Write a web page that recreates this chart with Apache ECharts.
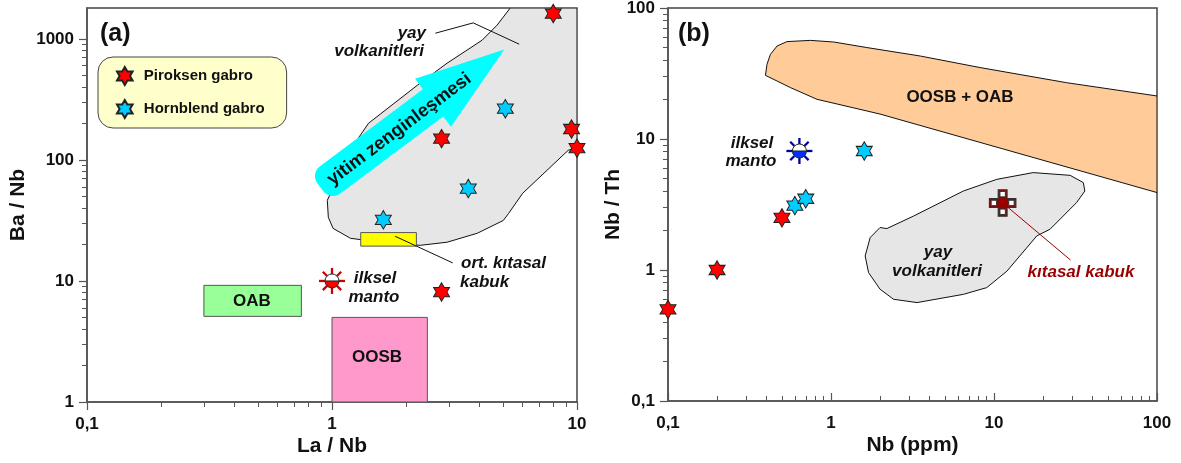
<!DOCTYPE html>
<html>
<head>
<meta charset="utf-8">
<script src="https://cdn.jsdelivr.net/npm/echarts@6/dist/echarts.min.js"></script>
<style>
html,body{margin:0;padding:0;background:#fff;}
#chart{width:1181px;height:463px;}
</style>
</head>
<body>
<div id="chart"></div>
<script>
// ---------------- DATA ----------------
// Panel (a): La/Nb vs Ba/Nb
const piroksenA = [[8.0, 1620], [9.5, 180], [10, 125], [2.8, 150], [2.8, 8.1]];
const hornblendA = [[5.1, 265], [3.6, 58], [1.62, 32]];
const primitiveMantleA = [[1.0, 10]];
const arcVolcanicsA = [[5.34, 1800], [10, 1800], [10, 127], [9.2, 120], [6.0, 53], [5.25, 36], [5.0, 31.6],
  [3.92, 24.8], [2.95, 20.9], [2.29, 19.7], [1.73, 20.5], [1.19, 22.5], [1.01, 27.2], [0.966, 33.6],
  [0.957, 46.4], [1.21, 128], [1.41, 201], [2.23, 414], [2.95, 630], [4.1, 976], [4.72, 1300]];
const oabBox = [[0.3, 5.1], [0.75, 5.1], [0.75, 9.2], [0.3, 9.2]];
const oosbBox = [[1.0, 1], [2.45, 1], [2.45, 5.0], [1.0, 5.0]];
const crustBoxA = [[1.31, 19.4], [2.21, 19.4], [2.21, 25.1], [1.31, 25.1]];
const arrowTail = [0.896, 59.5];
const arrowTip = [5.05, 817];
const arcLeaderA = [[2.64, 1114], [3.77, 1356], [5.81, 904]];
const crustLeaderA = [[1.81, 23.4], [3.11, 14.1]];

// Panel (b): Nb vs Nb/Th
const piroksenB = [[0.1, 0.5], [0.2, 1.0], [0.5, 2.5]];
const hornblendB = [[0.6, 3.1], [0.7, 3.5], [1.6, 8.1]];
const primitiveMantleB = [[0.64, 8.1]];
const continentalCrustB = [[11.3, 3.25]];
const oceanicField = [[0.396, 30.6], [0.405, 37.2], [0.425, 44.3], [0.467, 51.3], [0.537, 55.4], [0.747, 56.6],
  [1.04, 55], [1.66, 49.9], [3.53, 43.0], [8.22, 35.1], [27.9, 26.9], [100, 21.3], [100, 3.9],
  [2.0, 15.5], [0.82, 20.1], [0.563, 24.7], [0.467, 27.7]];
const arcVolcanicsB = [[2.2, 2.07], [3.21, 2.58], [6.49, 4.01], [10.4, 4.92], [17.4, 5.54], [29.3, 5.28],
  [35.3, 4.65], [36.1, 4.01], [32.1, 3.27], [22.1, 2.05], [18.3, 1.82], [12.0, 0.98], [9.03, 0.734],
  [6.49, 0.652], [3.37, 0.564], [2.42, 0.598], [2.0, 0.713], [1.7, 0.955], [1.62, 1.28], [1.74, 1.77], [2.0, 2.11]];
const crustLeaderB = [[11.3, 3.25], [29.5, 1.19]];

const ticksA_x = [0.1, 1, 10];
const ticksA_y = [1, 10, 100, 1000];
const ticksB_x = [0.1, 1, 10, 100];
const ticksB_y = [0.1, 1, 10, 100];

// ---------------- STYLE ----------------
const FONT = '"Liberation Sans", Arial, sans-serif';
const starPath = 'path://M100,0L128.87,50L186.6,50L157.7,100L186.6,150L128.87,150L100,200L71.13,150L13.4,150L42.3,100L13.4,50L71.13,50Z';
const AX = '#555';
const fmt = v => String(Number(Number(v).toPrecision(6))).replace('.', ',');

function logAxis(gi, min, max, ticks, name, nameGap, inside, isY) {
  return {
    type: 'log', logBase: 10, gridIndex: gi, min: min, max: max,
    name: name, nameLocation: 'middle', nameGap: nameGap, nameMoveOverlap: false,
    nameTextStyle: { fontFamily: FONT, fontSize: 21, fontWeight: 'bold', color: '#111' },
    axisLine: { show: true, onZero: false, lineStyle: { color: AX, width: 1.5 } },
    axisTick: { show: true, inside: inside, length: 8, customValues: ticks, lineStyle: { color: AX, width: 1.2 } },
    minorTick: { show: true, splitNumber: 9, length: 5, lineStyle: { color: AX, width: 1 } },
    splitLine: { show: false }, minorSplitLine: { show: false },
    axisLabel: { customValues: ticks, formatter: fmt, fontFamily: FONT, fontSize: 17, fontWeight: 'bold',
      color: '#111', margin: isY ? 13 : 14, showMinLabel: true, showMaxLabel: true, hideOverlap: false }
  };
}

function polygonSeries(pts, gi, style, z) {
  return {
    type: 'custom', xAxisIndex: gi, yAxisIndex: gi, data: pts, clip: true, silent: true, z: z,
    renderItem: function (params, api) {
      if (params.dataIndex !== 0) return null;
      return { type: 'polygon', shape: { points: pts.map(p => api.coord(p)) }, style: style };
    }
  };
}

function lineSeries(pts, gi, color, z) {
  return {
    type: 'line', xAxisIndex: gi, yAxisIndex: gi, data: pts, symbol: 'none', silent: true, z: z,
    lineStyle: { color: color, width: 1 }, animation: false
  };
}

function mantoSeries(pts, gi, lowerColor, rayColor) {
  return {
    type: 'custom', xAxisIndex: gi, yAxisIndex: gi, data: pts, clip: false, silent: true, z: 12,
    renderItem: function (params, api) {
      const c = api.coord(pts[params.dataIndex]);
      const R = 7;
      const ch = [];
      for (let k = 0; k < 8; k++) {
        const a = k * Math.PI / 4;
        ch.push({ type: 'line', shape: { x1: c[0] + 7 * Math.cos(a), y1: c[1] + 7 * Math.sin(a),
          x2: c[0] + 13 * Math.cos(a), y2: c[1] + 13 * Math.sin(a) }, style: { stroke: rayColor, lineWidth: 2.3 } });
      }
      ch.push({ type: 'circle', shape: { cx: c[0], cy: c[1], r: R }, style: { fill: '#fff', stroke: null } });
      ch.push({ type: 'sector', shape: { cx: c[0], cy: c[1], r: R, r0: 0, startAngle: 0, endAngle: Math.PI, clockwise: true },
        style: { fill: lowerColor, stroke: null } });
      ch.push({ type: 'line', shape: { x1: c[0] - R, y1: c[1], x2: c[0] + R, y2: c[1] }, style: { stroke: '#222', lineWidth: 1 } });
      ch.push({ type: 'circle', shape: { cx: c[0], cy: c[1], r: R }, style: { fill: null, stroke: '#222', lineWidth: 1 } });
      return { type: 'group', children: ch };
    }
  };
}

function crossSeries(pts, gi) {
  return {
    type: 'custom', xAxisIndex: gi, yAxisIndex: gi, data: pts, clip: false, silent: true, z: 12,
    renderItem: function (params, api) {
      const c = api.coord(pts[params.dataIndex]);
      const s = 8.8, h = s / 2, H = 1.5 * s;
      const shape = [[-h, -H], [h, -H], [h, -h], [H, -h], [H, h], [h, h], [h, H], [-h, H], [-h, h], [-H, h], [-H, -h], [-h, -h]]
        .map(p => [c[0] + p[0], c[1] + p[1]]);
      const ch = [{ type: 'polygon', shape: { points: shape }, style: { fill: '#990000', stroke: '#333', lineWidth: 1.2 } }];
      [[0, -s], [-s, 0], [s, 0], [0, s]].forEach(o => {
        ch.push({ type: 'rect', shape: { x: c[0] + o[0] - 2.7, y: c[1] + o[1] - 2.7, width: 5.4, height: 5.4 },
          style: { fill: '#fff', stroke: '#333', lineWidth: 1 } });
      });
      return { type: 'group', children: ch };
    }
  };
}

function arrowSeries(gi) {
  return {
    type: 'custom', xAxisIndex: gi, yAxisIndex: gi, data: [arrowTail], clip: false, silent: true, z: 8,
    renderItem: function (params, api) {
      const a = api.coord(arrowTail), b = api.coord(arrowTip);
      const dx = b[0] - a[0], dy = b[1] - a[1];
      const L = Math.hypot(dx, dy);
      const rot = Math.atan2(-dy, dx);
      const hl = 89, hs = 17, hw = 30, r = 12;
      const pts = [[L, 0], [L - hl, hw], [L - hl, hs]];
      for (let i = 0; i <= 8; i++) {
        const t = Math.PI / 2 + i * Math.PI / 16;
        pts.push([r + r * Math.cos(t), hs - r + r * Math.sin(t)]);
      }
      for (let i = 0; i <= 8; i++) {
        const t = Math.PI + i * Math.PI / 16;
        pts.push([r + r * Math.cos(t), -(hs - r) + r * Math.sin(t)]);
      }
      pts.push([L - hl, -hs], [L - hl, -hw]);
      return {
        type: 'group', x: a[0], y: a[1], rotation: rot,
        children: [
          { type: 'polygon', shape: { points: pts }, style: { fill: '#00FFFF', stroke: null } },
          { type: 'text', x: 98, y: 1, style: { text: 'yitim zenginleşmesi', font: 'bold 18.5px ' + FONT, fill: '#111',
            align: 'center', verticalAlign: 'middle', textAlign: 'center', textVerticalAlign: 'middle' } }
        ]
      };
    }
  };
}

function txt(x, y, text, opts) {
  opts = opts || {};
  const align = opts.align || 'center';
  return {
    type: 'text', x: x, y: y, z: 100, silent: true,
    style: { text: text, font: (opts.italic ? 'italic ' : '') + 'bold ' + (opts.size || 17) + 'px ' + FONT,
      fill: opts.color || '#111', align: align, textAlign: align, verticalAlign: 'middle', textVerticalAlign: 'middle' }
  };
}

const chart = echarts.init(document.getElementById('chart'), null, { renderer: 'canvas' });
const option = {
  animation: false,
  backgroundColor: '#fff',
  grid: [
    { left: 87, top: 8, width: 490, height: 394, show: true, borderColor: '#444', borderWidth: 1.5, backgroundColor: 'transparent', containLabel: false, outerBoundsMode: 'none' },
    { left: 668, top: 8, width: 489, height: 393, show: true, borderColor: '#444', borderWidth: 1.5, backgroundColor: 'transparent', containLabel: false, outerBoundsMode: 'none' }
  ],
  xAxis: [
    logAxis(0, 0.1, 10, ticksA_x, 'La / Nb', 34, false, false),
    logAxis(1, 0.1, 100, ticksB_x, 'Nb (ppm)', 34, true, false)
  ],
  yAxis: [
    logAxis(0, 1, 1800, ticksA_y, 'Ba / Nb', 58, false, true),
    logAxis(1, 0.1, 100, ticksB_y, 'Nb / Th', 44, false, true)
  ],
  legend: {
    data: ['Piroksen gabro', 'Hornblend gabro'],
    orient: 'vertical', left: 98, top: 57,
    itemWidth: 28, itemHeight: 18, itemGap: 13,
    padding: [9, 22, 9, 18],
    backgroundColor: '#FFFFCC', borderColor: '#444', borderWidth: 1, borderRadius: 15,
    selectedMode: false,
    textStyle: { fontFamily: FONT, fontSize: 15, fontWeight: 'bold', color: '#111' }
  },
  graphic: [
    txt(100, 34, '(a)', { size: 25, align: 'left' }),
    txt(678, 34, '(b)', { size: 25, align: 'left' }),
    txt(426, 33, 'yay', { italic: true, align: 'right' }),
    txt(424, 51, 'volkanitleri', { italic: true, align: 'right' }),
    txt(461, 263, 'ort. kıtasal', { italic: true, align: 'left' }),
    txt(460, 282, 'kabuk', { italic: true, align: 'left' }),
    txt(375, 278, 'ilksel', { italic: true }),
    txt(374, 297, 'manto', { italic: true }),
    txt(252, 301, 'OAB'),
    txt(377, 357, 'OOSB'),
    txt(752, 143, 'ilksel', { italic: true }),
    txt(751, 161, 'manto', { italic: true }),
    txt(960, 97, 'OOSB + OAB'),
    txt(938, 252, 'yay', { italic: true }),
    txt(937, 271, 'volkanitleri', { italic: true }),
    txt(1081, 272, 'kıtasal kabuk', { italic: true, color: '#990000' })
  ],
  series: [
    polygonSeries(arcVolcanicsA, 0, { fill: '#E6E6E6', stroke: '#111', lineWidth: 1 }, 1),
    polygonSeries(oabBox, 0, { fill: '#99FF99', stroke: '#555', lineWidth: 1 }, 2),
    polygonSeries(oosbBox, 0, { fill: '#FF99CC', stroke: '#555', lineWidth: 1 }, 2),
    polygonSeries(crustBoxA, 0, { fill: '#FFFF00', stroke: '#555', lineWidth: 1 }, 3),
    lineSeries(arcLeaderA, 0, '#111', 4),
    lineSeries(crustLeaderA, 0, '#111', 4),
    arrowSeries(0),
    mantoSeries(primitiveMantleA, 0, '#FF0000', '#CC0000'),
    { name: 'Piroksen gabro', type: 'scatter', xAxisIndex: 0, yAxisIndex: 0, data: piroksenA, symbol: starPath,
      symbolSize: [16, 18.5], clip: false, z: 10, itemStyle: { color: '#FF0000', borderColor: '#222', borderWidth: 1, opacity: 1 } },
    { name: 'Hornblend gabro', type: 'scatter', xAxisIndex: 0, yAxisIndex: 0, data: hornblendA, symbol: starPath,
      symbolSize: [16, 18.5], clip: false, z: 10, itemStyle: { color: '#00CCFF', borderColor: '#222', borderWidth: 1, opacity: 1 } },

    polygonSeries(oceanicField, 1, { fill: '#FFCC99', stroke: '#111', lineWidth: 1 }, 1),
    polygonSeries(arcVolcanicsB, 1, { fill: '#E6E6E6', stroke: '#111', lineWidth: 1 }, 1),
    lineSeries(crustLeaderB, 1, '#990000', 4),
    crossSeries(continentalCrustB, 1),
    mantoSeries(primitiveMantleB, 1, '#0033FF', '#000099'),
    { name: 'Piroksen gabro', type: 'scatter', xAxisIndex: 1, yAxisIndex: 1, data: piroksenB, symbol: starPath,
      symbolSize: [16, 18.5], clip: false, z: 10, itemStyle: { color: '#FF0000', borderColor: '#222', borderWidth: 1, opacity: 1 } },
    { name: 'Hornblend gabro', type: 'scatter', xAxisIndex: 1, yAxisIndex: 1, data: hornblendB, symbol: starPath,
      symbolSize: [16, 18.5], clip: false, z: 10, itemStyle: { color: '#00CCFF', borderColor: '#222', borderWidth: 1, opacity: 1 } }
  ]
};
chart.setOption(option);
</script>
</body>
</html>
